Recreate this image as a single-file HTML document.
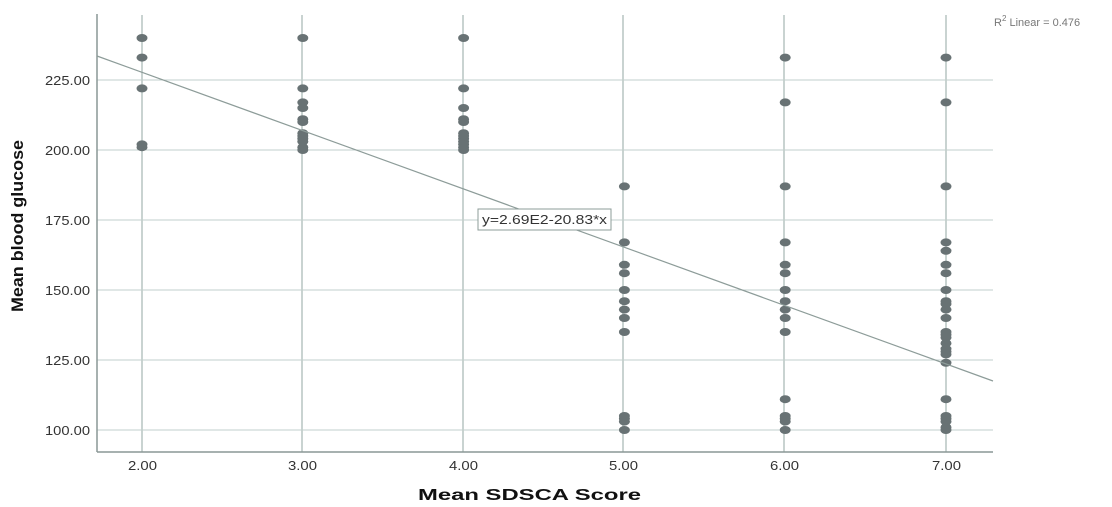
<!DOCTYPE html><html><head><meta charset="utf-8"><style>body{margin:0;background:#fff}svg{display:block}text{font-family:"Liberation Sans",sans-serif}</style></head><body>
<svg width="1112" height="507" viewBox="0 0 1112 507">
<g stroke="#c9d3d1" stroke-width="2">
<line x1="142" y1="15" x2="142" y2="452"/><line x1="302" y1="15" x2="302" y2="452"/><line x1="463" y1="15" x2="463" y2="452"/><line x1="623" y1="15" x2="623" y2="452"/><line x1="784" y1="15" x2="784" y2="452"/><line x1="946" y1="15" x2="946" y2="452"/>
</g>
<g stroke="#c2cfcc" stroke-width="1">
<line x1="97" y1="80" x2="993" y2="80"/><line x1="97" y1="150" x2="993" y2="150"/><line x1="97" y1="220" x2="993" y2="220"/><line x1="97" y1="290" x2="993" y2="290"/><line x1="97" y1="360" x2="993" y2="360"/><line x1="97" y1="430" x2="993" y2="430"/>
</g>
<g stroke="#8a9795" stroke-width="1.5"><line x1="97" y1="14" x2="97" y2="452"/><line x1="97" y1="452" x2="993" y2="452"/></g>
<g fill="#687274" id="pts"></g>
<line x1="97" y1="56" x2="993" y2="381" stroke="#8d9c99" stroke-width="1.2"/>
<rect x="478" y="209" width="133" height="21" fill="#fff" stroke="#8d9c99"/>
<text x="482" y="224" font-size="13" fill="#333" textLength="125" lengthAdjust="spacingAndGlyphs">y=2.69E2-20.83*x</text>
<g font-size="13" fill="#333">
<text x="45" y="85" textLength="45" lengthAdjust="spacingAndGlyphs">225.00</text><text x="45" y="155" textLength="45" lengthAdjust="spacingAndGlyphs">200.00</text><text x="45" y="225" textLength="45" lengthAdjust="spacingAndGlyphs">175.00</text><text x="45" y="295" textLength="45" lengthAdjust="spacingAndGlyphs">150.00</text><text x="45" y="365" textLength="45" lengthAdjust="spacingAndGlyphs">125.00</text><text x="45" y="435" textLength="45" lengthAdjust="spacingAndGlyphs">100.00</text></g>
<g font-size="13" fill="#333">
<text x="128" y="470" textLength="29" lengthAdjust="spacingAndGlyphs">2.00</text><text x="288" y="470" textLength="29" lengthAdjust="spacingAndGlyphs">3.00</text><text x="449" y="470" textLength="29" lengthAdjust="spacingAndGlyphs">4.00</text><text x="609" y="470" textLength="29" lengthAdjust="spacingAndGlyphs">5.00</text><text x="770" y="470" textLength="29" lengthAdjust="spacingAndGlyphs">6.00</text><text x="932" y="470" textLength="29" lengthAdjust="spacingAndGlyphs">7.00</text></g>
<text x="418" y="500" font-size="16" font-weight="bold" fill="#111" textLength="223" lengthAdjust="spacingAndGlyphs">Mean SDSCA Score</text>
<text transform="translate(23,312) rotate(-90)" font-size="17" font-weight="bold" fill="#111" textLength="172" lengthAdjust="spacingAndGlyphs">Mean blood glucose</text>
<text x="994" y="26" font-size="11" fill="#777">R<tspan dy="-5" font-size="8">2</tspan><tspan dy="5"> Linear = 0.476</tspan></text>
</svg>
<script>
var d={2:[240,233,222,201,202],3:[240,222,217,215,211,210,206,205,204,203,201,200],4:[240,222,215,211,210,206,205,204,203,202,201,200],5:[187,167,159,156,150,146,143,140,135,105,104,103,100],6:[233,217,187,167,159,156,150,146,143,140,135,111,105,104,103,100],7:[233,217,187,167,164,159,156,150,146,145,143,140,135,134,133,131,129,128,127,124,111,105,104,103,101,100]};
var g=document.getElementById('pts'),s='';
for(var k in d){var x=142+(k-2)*160.8;d[k].forEach(function(v){s+='<ellipse cx="'+x+'" cy="'+(430-(v-100)*2.8)+'" rx="5.5" ry="4"/>';});}
g.innerHTML=s;
</script>
</body></html>
